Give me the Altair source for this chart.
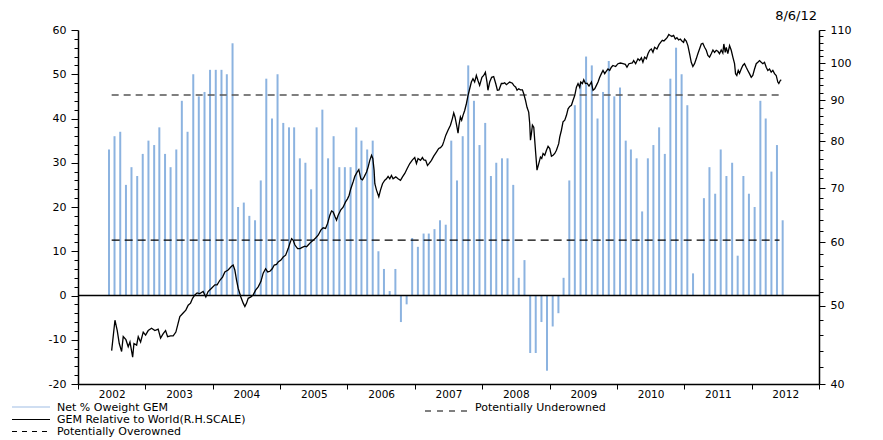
import altair as alt
import numpy as np
import pandas as pd

# ---------------- data ----------------
net_overweight = [
    33, 36, 37, 25, 29, 27, 32, 35, 34, 38,
    32, 29, 33, 44, 37, 50, 45, 46, 51, 51,
    51, 50, 57, 20, 21, 18, 17, 26, 49, 40,
    50, 39, 38, 38, 31, 30, 24, 38, 42, 31,
    36, 29, 29, 29, 38, 35, 33, 35, 10, 6,
    1, 6, -6, -2, 13, 11, 14, 14, 15, 17,
    16, 35, 26, 36, 52, 44, 34, 39, 27, 30,
    31, 31, 25, 4, 8, -13, -13, -6, -17, -7,
    -4, 4, 26, 43, 48, 54, 52, 40, 46, 53,
    45, 47, 35, 33, 31, 19, 31, 34, 38, 32,
    49, 56, 50, 43, 5, None, 22, 29, 23, 33,
    27, 30, 9, 27, 23, 20, 44, 40, 28, 34, 17,
]
bar_first_month = "2002-06-01"

line_year = [
    2002.500, 2002.549, 2002.583, 2002.613, 2002.648, 2002.672, 2002.712, 2002.746, 2002.772, 2002.812,
    2002.831, 2002.871, 2002.895, 2002.930, 2002.969, 2003.004, 2003.043, 2003.093, 2003.142, 2003.191,
    2003.227, 2003.266, 2003.301, 2003.331, 2003.375, 2003.414, 2003.454, 2003.488, 2003.513, 2003.562,
    2003.602, 2003.637, 2003.672, 2003.702, 2003.736, 2003.770, 2003.810, 2003.859, 2003.899, 2003.933,
    2003.984, 2004.033, 2004.067, 2004.107, 2004.147, 2004.181, 2004.230, 2004.280, 2004.304, 2004.329,
    2004.355, 2004.378, 2004.418, 2004.453, 2004.478, 2004.503, 2004.527, 2004.567, 2004.601, 2004.637,
    2004.675, 2004.715, 2004.749, 2004.785, 2004.815, 2004.849, 2004.883, 2004.913, 2004.947, 2004.972,
    2005.012, 2005.046, 2005.082, 2005.120, 2005.145, 2005.171, 2005.194, 2005.220, 2005.260, 2005.294,
    2005.328, 2005.368, 2005.393, 2005.417, 2005.457, 2005.491, 2005.527, 2005.565, 2005.605, 2005.639,
    2005.675, 2005.705, 2005.739, 2005.764, 2005.788, 2005.813, 2005.838, 2005.862, 2005.902, 2005.936,
    2005.972, 2006.001, 2006.025, 2006.050, 2006.085, 2006.110, 2006.144, 2006.169, 2006.199, 2006.224,
    2006.248, 2006.284, 2006.308, 2006.332, 2006.358, 2006.377, 2006.396, 2006.407, 2006.432, 2006.466,
    2006.491, 2006.521, 2006.555, 2006.580, 2006.604, 2006.629, 2006.654, 2006.678, 2006.718, 2006.752,
    2006.788, 2006.818, 2006.852, 2006.886, 2006.926, 2006.966, 2007.000, 2007.025, 2007.049, 2007.085,
    2007.114, 2007.134, 2007.163, 2007.189, 2007.212, 2007.248, 2007.282, 2007.322, 2007.356, 2007.382,
    2007.411, 2007.430, 2007.460, 2007.494, 2007.530, 2007.559, 2007.579, 2007.598, 2007.628, 2007.643,
    2007.657, 2007.678, 2007.697, 2007.717, 2007.742, 2007.767, 2007.791, 2007.816, 2007.841, 2007.865,
    2007.890, 2007.915, 2007.939, 2007.964, 2007.998, 2008.024, 2008.049, 2008.073, 2008.087, 2008.113,
    2008.142, 2008.172, 2008.202, 2008.227, 2008.251, 2008.286, 2008.310, 2008.335, 2008.361, 2008.409,
    2008.449, 2008.469, 2008.499, 2008.518, 2008.543, 2008.568, 2008.598, 2008.617, 2008.643, 2008.666,
    2008.691, 2008.706, 2008.717, 2008.731, 2008.746, 2008.766, 2008.780, 2008.795, 2008.814, 2008.840,
    2008.865, 2008.884, 2008.904, 2008.929, 2008.954, 2008.978, 2009.003, 2009.028, 2009.052, 2009.077,
    2009.102, 2009.136, 2009.151, 2009.176, 2009.200, 2009.226, 2009.251, 2009.275, 2009.300, 2009.325,
    2009.349, 2009.374, 2009.399, 2009.423, 2009.448, 2009.463, 2009.488, 2009.508, 2009.533, 2009.557,
    2009.586, 2009.622, 2009.645, 2009.671, 2009.696, 2009.720, 2009.745, 2009.770, 2009.794, 2009.819,
    2009.844, 2009.868, 2009.893, 2009.918, 2009.941, 2009.982, 2010.016, 2010.052, 2010.090, 2010.126,
    2010.150, 2010.179, 2010.230, 2010.249, 2010.279, 2010.313, 2010.338, 2010.364, 2010.387, 2010.412,
    2010.438, 2010.462, 2010.487, 2010.512, 2010.536, 2010.561, 2010.595, 2010.625, 2010.650, 2010.675,
    2010.699, 2010.727, 2010.749, 2010.772, 2010.793, 2010.817, 2010.843, 2010.868, 2010.892, 2010.917,
    2010.942, 2010.966, 2010.991, 2011.006, 2011.031, 2011.055, 2011.080, 2011.105, 2011.129, 2011.154,
    2011.179, 2011.203, 2011.228, 2011.254, 2011.277, 2011.303, 2011.328, 2011.352, 2011.377, 2011.402,
    2011.427, 2011.451, 2011.476, 2011.500, 2011.525, 2011.550, 2011.574, 2011.589, 2011.610, 2011.625,
    2011.648, 2011.674, 2011.699, 2011.723, 2011.748, 2011.763, 2011.782, 2011.803, 2011.822, 2011.847,
    2011.871, 2011.896, 2011.921, 2011.945, 2011.970, 2011.996, 2012.019, 2012.045, 2012.070, 2012.094,
    2012.119, 2012.144, 2012.168, 2012.193, 2012.218, 2012.242, 2012.267, 2012.292, 2012.316, 2012.341,
    2012.366, 2012.390, 2012.405, 2012.426, 2012.441,
]
line_value = [
    44.0, 48.0, 46.6, 44.9, 43.9, 45.8, 45.4, 44.5, 45.1, 43.2,
    44.9, 44.7, 45.8, 45.1, 46.4, 46.0, 46.6, 46.9, 46.6, 46.8,
    45.6, 46.2, 46.6, 45.8, 45.9, 45.9, 46.4, 47.6, 48.5, 49.0,
    49.4, 50.1, 50.4, 51.1, 51.6, 51.9, 51.8, 52.1, 51.3, 52.1,
    52.6, 53.1, 53.1, 53.8, 54.3, 55.1, 55.4, 56.0, 56.2, 55.4,
    53.8, 52.6, 51.3, 50.4, 49.9, 50.4, 51.1, 51.3, 51.6, 52.3,
    52.8, 53.6, 54.9, 55.6, 55.1, 55.2, 55.6, 56.2, 56.3, 56.7,
    57.0, 57.5, 57.8, 58.9, 59.8, 60.6, 60.3, 59.5, 58.9, 58.9,
    59.1, 59.3, 59.2, 59.5, 60.0, 60.3, 60.7, 61.2, 62.1, 62.5,
    62.4, 63.3, 64.8, 65.6, 65.4, 64.6, 63.9, 64.8, 65.8, 66.3,
    67.3, 67.9, 68.6, 69.9, 71.3, 72.4, 73.3, 73.8, 71.9, 71.7,
    72.3, 73.3, 74.4, 75.8, 76.9, 76.2, 73.7, 70.9, 69.6, 68.3,
    69.6, 70.9, 71.6, 71.9, 72.4, 71.9, 72.6, 71.9, 72.3, 71.9,
    71.6, 72.3, 73.0, 74.0, 75.1, 75.9, 76.4, 75.1, 76.2, 75.8,
    76.4, 75.9, 75.8, 74.7, 75.1, 75.8, 76.7, 77.6, 78.4, 78.6,
    79.1, 79.9, 81.4, 82.6, 83.8, 85.4, 86.8, 85.8, 83.3, 81.9,
    83.8, 85.8, 85.0, 86.2, 87.4, 89.1, 91.2, 93.0, 94.8, 95.7,
    94.8, 96.6, 95.2, 93.9, 96.1, 96.6, 97.5, 94.8, 92.6, 94.8,
    96.1, 96.3, 94.4, 92.6, 92.7, 94.4, 94.4, 94.6, 94.1, 94.8,
    94.5, 93.9, 93.4, 92.6, 93.0, 92.7, 92.7, 91.7, 90.0, 88.2,
    87.0, 84.2, 80.3, 81.8, 83.8, 83.3, 80.3, 77.3, 73.7, 75.1,
    76.5, 76.2, 77.3, 76.9, 78.0, 78.9, 78.4, 76.7, 76.9, 77.3,
    78.0, 79.5, 81.0, 82.6, 84.6, 85.0, 86.2, 87.8, 88.4, 88.7,
    90.0, 91.2, 93.4, 94.4, 93.4, 94.8, 94.4, 95.4, 94.4, 94.5,
    93.7, 94.8, 92.6, 93.0, 93.9, 94.8, 96.1, 97.1, 98.0, 97.1,
    97.8, 98.4, 98.0, 98.9, 99.4, 99.1, 99.9, 100.1, 99.9, 99.7,
    98.9, 99.9, 100.1, 100.8, 99.9, 101.3, 100.8, 101.6, 100.3, 101.8,
    101.3, 102.8, 103.8, 104.2, 103.2, 104.7, 104.2, 105.5, 106.2, 106.8,
    106.6, 107.2, 107.7, 108.6, 108.3, 108.0, 108.3, 107.2, 107.6, 106.9,
    107.2, 106.6, 106.2, 107.2, 106.6, 105.2, 102.8, 100.3, 99.1, 99.9,
    101.3, 102.8, 104.2, 105.7, 105.9, 104.7, 103.8, 102.3, 101.8, 102.8,
    103.9, 103.2, 103.8, 103.5, 102.8, 103.9, 103.0, 105.7, 103.2, 104.7,
    102.8, 105.2, 103.8, 101.8, 99.9, 97.1, 96.6, 98.0, 97.2, 98.4,
    99.4, 99.9, 98.9, 98.0, 97.1, 96.1, 96.6, 98.4, 99.9, 100.3,
    100.8, 100.3, 99.9, 100.3, 98.9, 98.0, 98.4, 97.5, 98.0, 97.1,
    96.6, 94.8, 94.4, 95.2, 95.4,
]

overowned_level = 45.3
underowned_level = 12.5
band_start_year = 2002.5
band_end_year = 2012.415

year_ticks = list(range(2002, 2014))
left_ticks = list(range(-20, 61, 2))
right_ticks = list(range(40, 111, 2))

legend_net = "Net % Oweight GEM"
legend_rel = "GEM Relative to World(R.H.SCALE)"
legend_over = "Potentially Overowned"
legend_under = "Potentially Underowned"
date_label = "8/6/12"

FONT = "DejaVu Sans"
BAR_COLOR = "#8cb3e0"


def to_date(t):
    y = int(np.floor(t))
    start = pd.Timestamp(year=y, month=1, day=1)
    end = pd.Timestamp(year=y + 1, month=1, day=1)
    return start + (end - start) * (t - y)


bars_df = pd.DataFrame({
    "date": pd.date_range(bar_first_month, periods=len(net_overweight), freq="MS") + pd.Timedelta(days=17),
    "net": net_overweight,
})
line_df = pd.DataFrame({"date": [to_date(t) for t in line_year], "rel": line_value})
over_df = pd.DataFrame({"start": [to_date(band_start_year)], "end": [to_date(band_end_year)],
                        "level": [overowned_level]})
under_df = pd.DataFrame({"start": [to_date(band_start_year)], "end": [to_date(band_end_year)],
                         "level": [underowned_level]})
zero_df = pd.DataFrame({"level": [0]})
one = pd.DataFrame({"a": [0]})

x_scale = alt.Scale(domain=[alt.DateTime(year=2002, month=1, date=1),
                            alt.DateTime(year=2013, month=1, date=1)])
x_axis = alt.Axis(
    values=[alt.DateTime(year=y, month=1, date=1) for y in year_ticks],
    labelExpr="year(datum.value) < 2013 ? timeFormat(datum.value, '%Y') : ''",
    labelOffset=33.7, labelFlush=False, labelOverlap=False, labelPadding=0,
    labelFontSize=10.5, tickSize=5, title=None, grid=False,
)
left_scale = alt.Scale(domain=[-20, 60], nice=False, zero=False)
left_axis = alt.Axis(
    values=left_ticks,
    labelExpr="datum.value % 10 == 0 ? '' + datum.value : ''",
    tickSize={"condition": {"test": "datum.value % 10 == 0", "value": 7}, "value": 4},
    labelPadding=5, title=None, grid=False, labelOverlap=False, labelFlush=False,
)
right_scale = alt.Scale(type="log", domain=[40, 110], nice=False)
right_axis = alt.Axis(
    orient="right", values=right_ticks,
    labelExpr="datum.value % 10 == 0 ? '' + datum.value : ''",
    tickSize={"condition": {"test": "datum.value % 10 == 0", "value": 6}, "value": 4},
    labelPadding=5, title=None, grid=False, labelOverlap=False, labelFlush=False,
)

ly = lambda f: alt.Y(f, type="quantitative", scale=left_scale, axis=left_axis)

bars = alt.Chart(bars_df).mark_rule(color=BAR_COLOR, strokeWidth=2).encode(
    x=alt.X("date:T", scale=x_scale, axis=x_axis),
    y=ly("net"),
    y2=alt.datum(0),
)
over = alt.Chart(over_df).mark_rule(color="#555555", strokeWidth=1.5, strokeDash=[7, 5]).encode(
    x=alt.X("start:T", scale=x_scale, axis=x_axis), x2="end:T", y=ly("level"))
under = alt.Chart(under_df).mark_rule(color="black", strokeWidth=1.2, strokeDash=[8, 5]).encode(
    x=alt.X("start:T", scale=x_scale, axis=x_axis), x2="end:T", y=ly("level"))
zero = alt.Chart(zero_df).mark_rule(color="black", strokeWidth=1.5).encode(y=ly("level"))

left_group = alt.layer(bars, over, under, zero)

line = alt.Chart(line_df).mark_line(color="black", strokeWidth=1.3).encode(
    x=alt.X("date:T", scale=x_scale, axis=x_axis),
    y=alt.Y("rel:Q", scale=right_scale, axis=right_axis),
)


# manual legend and date stamp (pixel positions relative to plot origin)
def txt(s, x, y, align="left", size=11):
    return alt.Chart(one).mark_text(text=s, align=align, baseline="middle", font=FONT,
                                     fontSize=size, color="black").encode(
        x=alt.value(x), y=alt.value(y))


def sw(x1, x2, y, color, width, dash=None):
    kw = dict(color=color, strokeWidth=width)
    if dash:
        kw["strokeDash"] = dash
    return alt.Chart(one).mark_rule(**kw).encode(x=alt.value(x1), x2=alt.value(x2), y=alt.value(y))


decor = [
    sw(-66, -28, 377, "#9fbde4", 1),
    txt(legend_net, -21, 377.5),
    sw(-66, -28, 389.5, "black", 1),
    txt(legend_rel, -21, 389.5),
    sw(-66, -28, 401.5, "black", 1, [5, 5]),
    txt(legend_over, -21, 401.5),
    sw(347, 389, 381, "black", 1, [6, 6]),
    txt(legend_under, 397, 377.5),
    txt(date_label, 739, -14, align="right", size=13),
]

chart = alt.layer(left_group, line, *decor).resolve_scale(y="independent").properties(
    width=741, height=354,
    autosize=alt.AutoSizeParams(type="none"),
    padding={"left": 70, "top": 22, "right": 50, "bottom": 56},
).configure_view(stroke=None).configure_axis(
    labelFont=FONT, labelFontSize=11, labelColor="black",
    domainColor="black", tickColor="black", domainWidth=1.5, tickWidth=1,
)

chart.save("out.html", embed_options={"renderer": "svg", "actions": False})
